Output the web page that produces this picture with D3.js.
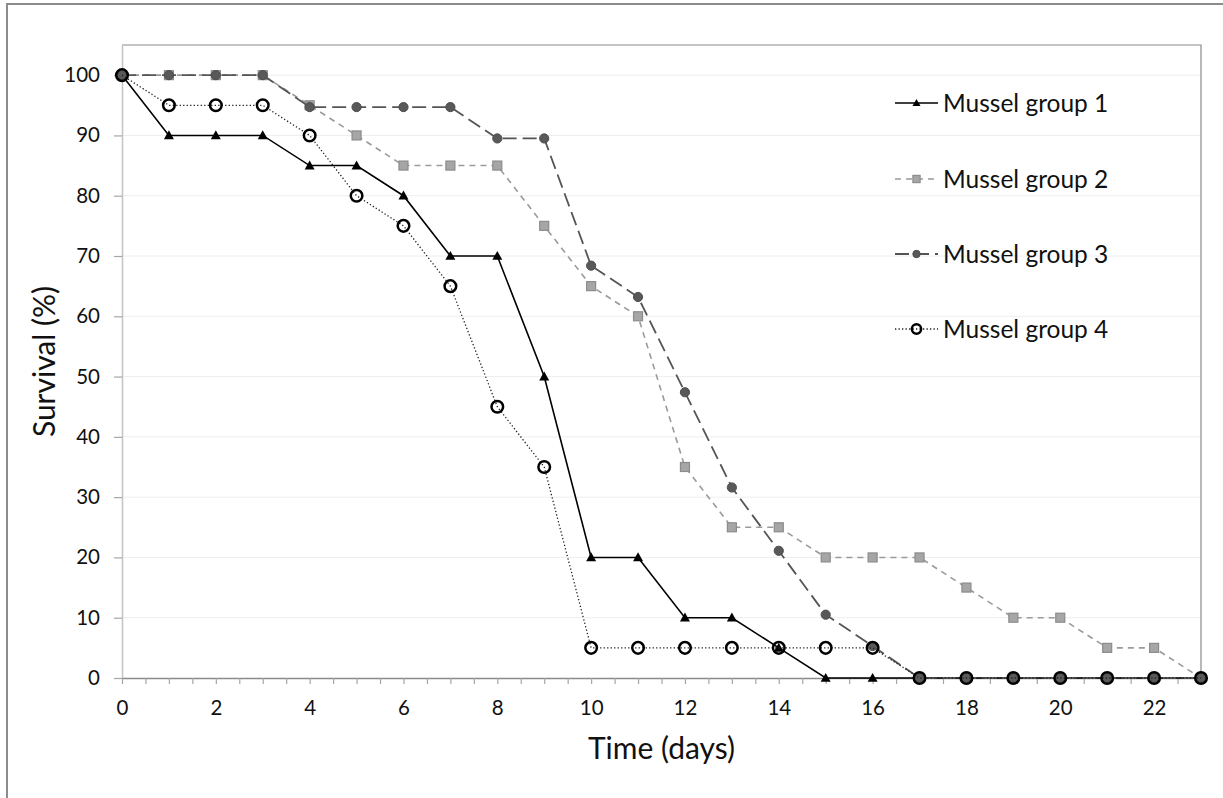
<!DOCTYPE html>
<html>
<head>
<meta charset="utf-8">
<script src="https://cdn.jsdelivr.net/npm/d3@7"></script>
<style>
  html, body { margin: 0; padding: 0; background: #fff; }
  svg { display: block; font-family: Lato, "Open Sans", sans-serif; }
</style>
</head>
<body>
<svg id="chart" width="1223" height="798"></svg>
<script>
// Survival of four mussel groups over time
const days = d3.range(0, 24);
const group1 = [100, 90, 90, 90, 85, 85, 80, 70, 70, 50, 20, 20, 10, 10, 5, 0, 0, 0, 0, 0, 0, 0, 0, 0];
const group2 = [100, 100, 100, 100, 95, 90, 85, 85, 85, 75, 65, 60, 35, 25, 25, 20, 20, 20, 15, 10, 10, 5, 5, 0];
const group3 = [100, 100, 100, 100, 94.7, 94.7, 94.7, 94.7, 89.5, 89.5, 68.4, 63.2, 47.4, 31.6, 21.1, 10.5, 5.3, 0, 0, 0, 0, 0, 0, 0];
const group4 = [100, 95, 95, 95, 90, 80, 75, 65, 45, 35, 5, 5, 5, 5, 5, 5, 5, 0, 0, 0, 0, 0, 0, 0];
const seriesNames = ["Mussel group 1", "Mussel group 2", "Mussel group 3", "Mussel group 4"];
const yTicks = [0, 10, 20, 30, 40, 50, 60, 70, 80, 90, 100];
const xTicks = [0, 2, 4, 6, 8, 10, 12, 14, 16, 18, 20, 22];

const svg = d3.select("#chart");

// chart frame
svg.append("rect")
  .attr("x", 7).attr("y", 4).attr("width", 1240).attr("height", 820)
  .attr("fill", "none").attr("stroke", "#8c8c8c").attr("stroke-width", 2);

const plotL = 122, plotR = 1201, plotT = 45, plotB = 678;
const x = d3.scaleLinear().domain([0, 23]).range([plotL, plotR]);
const y = d3.scaleLinear().domain([0, 105]).range([plotB, plotT]);

// gridlines
svg.append("g").selectAll("line").data(yTicks.filter(d => d > 0)).join("line")
  .attr("x1", plotL).attr("x2", plotR)
  .attr("y1", d => y(d)).attr("y2", d => y(d))
  .attr("stroke", "#eeeeee").attr("stroke-width", 1);

// plot area border (top and right)
svg.append("path")
  .attr("d", `M${plotL},${plotT}H${plotR}V${plotB}`)
  .attr("fill", "none").attr("stroke", "#8a8a8a").attr("stroke-width", 1.2);

// y axis
const yAxis = svg.append("g").attr("transform", `translate(${plotL},0)`)
  .call(d3.axisLeft(y).tickValues(yTicks).tickSize(8).tickPadding(14).tickSizeOuter(0));
yAxis.select(".domain").attr("stroke", "#c4c4c4").attr("stroke-width", 1.5)
  .attr("d", `M0.5,${plotT}V${plotB}`);
yAxis.selectAll(".tick line").attr("stroke", "#a6a6a6").attr("stroke-width", 1.2);
yAxis.selectAll(".tick text").attr("font-size", 20.5).attr("fill", "#111").attr("font-family", "Lato");

// x axis: ticks every half day, labels every two days
const xAxis = svg.append("g").attr("transform", `translate(0,${plotB})`)
  .call(d3.axisBottom(x).tickValues(d3.range(0, 23.01, 0.5)).tickSize(6).tickPadding(10).tickSizeOuter(0)
    .tickFormat(d => xTicks.includes(d) ? d : ""));
xAxis.select(".domain").attr("stroke", "#8a8a8a").attr("stroke-width", 1.5);
xAxis.selectAll(".tick line").attr("stroke", "#a6a6a6").attr("stroke-width", 1.2);
xAxis.selectAll(".tick text").attr("font-size", 20.5).attr("fill", "#111").attr("dy", "1.0em")
  .attr("font-family", "Lato");

// axis titles
svg.append("text").attr("x", (plotL + plotR) / 2).attr("y", 759)
  .attr("text-anchor", "middle").attr("font-size", 30).attr("fill", "#111")
  .text("Time (days)");
svg.append("text")
  .attr("transform", `translate(55,${(plotT + plotB) / 2}) rotate(-90)`)
  .attr("text-anchor", "middle").attr("font-size", 30).attr("fill", "#111")
  .text("Survival (%)");

// series styles
const styles = [
  { values: group1, stroke: "#000", width: 1.6, dash: null, marker: "tri", fill: "#000", mstroke: "none" },
  { values: group2, stroke: "#9a9a9a", width: 1.6, dash: "6,5", marker: "sq", fill: "#a6a6a6", mstroke: "#8c8c8c" },
  { values: group3, stroke: "#555", width: 1.8, dash: "14,6", marker: "dot", fill: "#595959", mstroke: "#4d4d4d" },
  { values: group4, stroke: "#222", width: 1.3, dash: "1.3,2.2", marker: "ring", fill: "none", mstroke: "#000" }
];

function drawMarker(g, type, cx, cy, s, st) {
  if (type === "tri") {
    const h = 8.5 * s, w = 10 * s;
    g.append("path").attr("d", `M${cx},${cy - h * 0.6}L${cx + w / 2},${cy + h * 0.45}L${cx - w / 2},${cy + h * 0.45}Z`)
      .attr("fill", st.fill);
  } else if (type === "sq") {
    const a = 9 * s;
    g.append("rect").attr("x", cx - a / 2).attr("y", cy - a / 2).attr("width", a).attr("height", a)
      .attr("fill", st.fill).attr("stroke", st.mstroke).attr("stroke-width", 1.2);
  } else if (type === "dot") {
    g.append("circle").attr("cx", cx).attr("cy", cy).attr("r", 4.6 * s)
      .attr("fill", st.fill).attr("stroke", st.mstroke).attr("stroke-width", 1);
  } else {
    g.append("circle").attr("cx", cx).attr("cy", cy).attr("r", 5.8 * s)
      .attr("fill", "none").attr("stroke", st.mstroke).attr("stroke-width", 2.5);
  }
}

const line = d3.line().x((d, i) => x(days[i])).y(d => y(d));
styles.forEach(st => {
  const g = svg.append("g");
  g.append("path").datum(st.values).attr("d", line)
    .attr("fill", "none").attr("stroke", st.stroke).attr("stroke-width", st.width)
    .attr("stroke-dasharray", st.dash);
  st.values.forEach((v, i) => drawMarker(g, st.marker, x(days[i]), y(v), 1, st));
});

// legend
const legY = [103, 179, 254, 329];
styles.forEach((st, i) => {
  const g = svg.append("g");
  g.append("line").attr("x1", 895).attr("x2", 938).attr("y1", legY[i]).attr("y2", legY[i])
    .attr("stroke", st.stroke).attr("stroke-width", st.width).attr("stroke-dasharray", st.dash);
  drawMarker(g, st.marker, 916.5, legY[i], 0.8, st);
  g.append("text").attr("x", 943).attr("y", legY[i]).attr("dy", "0.36em")
    .attr("font-size", 24.5).attr("fill", "#111").text(seriesNames[i]);
});
</script>
</body>
</html>
